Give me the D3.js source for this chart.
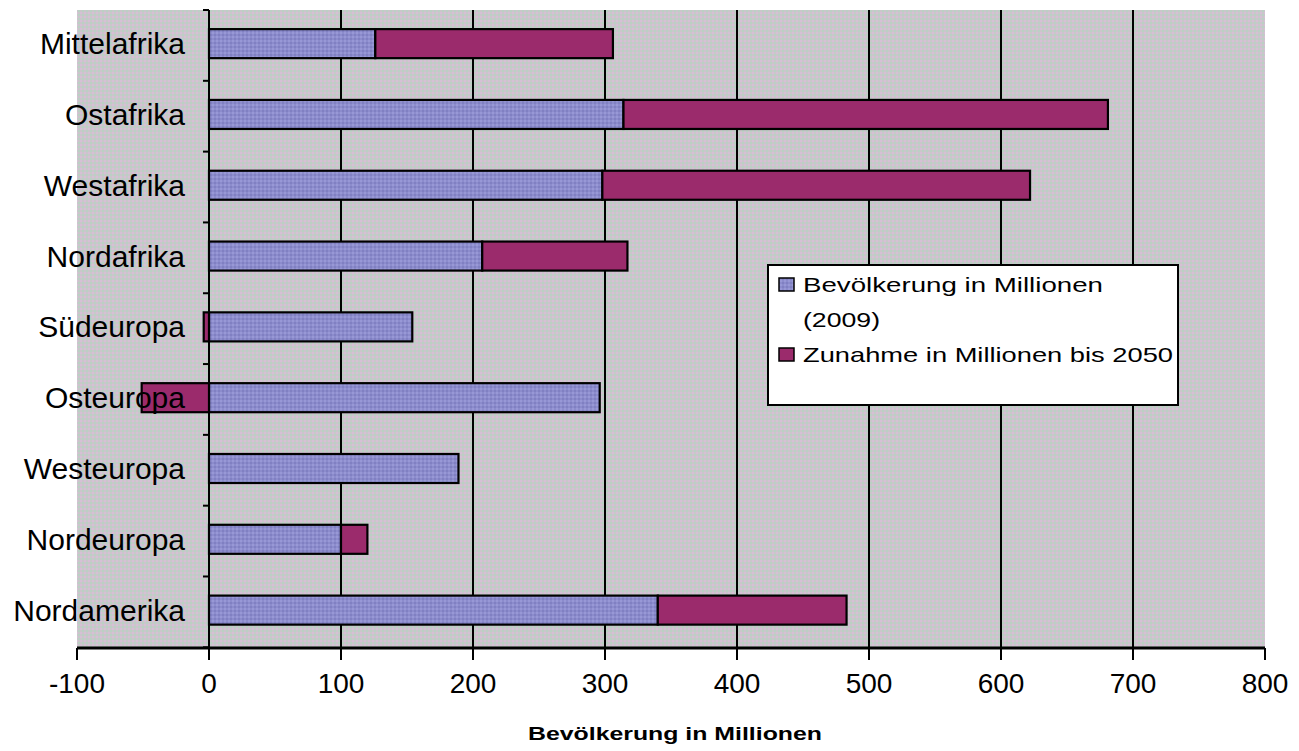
<!DOCTYPE html>
<html>
<head>
<meta charset="utf-8">
<script src="https://cdn.jsdelivr.net/npm/d3@7"></script>
<style>
  html, body { margin: 0; padding: 0; background: #ffffff; }
  svg { display: block; }
  text { font-family: "Liberation Sans", Arial, sans-serif; fill: #000; }
</style>
</head>
<body>
<svg id="chart" width="1299" height="751"></svg>
<script>
// Regions, top to bottom
const categories = ["Mittelafrika", "Ostafrika", "Westafrika", "Nordafrika", "Südeuropa",
                    "Osteuropa", "Westeuropa", "Nordeuropa", "Nordamerika"];
// Population 2009, millions
const population2009 = [126, 314, 298, 207, 154, 296, 189, 100, 340];
// Change in population until 2050, millions
const increase2050 = [180, 367, 324, 110, -4, -51, 0, 20, 143];
const xTicks = [-100, 0, 100, 200, 300, 400, 500, 600, 700, 800];
const seriesNames = ["Bevölkerung in Millionen (2009)", "Zunahme in Millionen bis 2050"];
const seriesColors = ["#8c8ccc", "#9b2b6c"];
const axisTitle = "Bevölkerung in Millionen";

const svg = d3.select("#chart");

const plot = { left: 77, right: 1265, top: 10, bottom: 648 };

const x = d3.scaleLinear().domain([-100, 800]).range([plot.left, plot.right]);
const y = d3.scaleBand().domain(categories).range([plot.top, plot.bottom])
  .paddingInner(0.59).paddingOuter(0.3).align(0.45);

// Dithered plot-area fill
const defs = svg.append("defs");
const pat = defs.append("pattern").attr("id", "dither")
  .attr("width", 4).attr("height", 4).attr("patternUnits", "userSpaceOnUse");
pat.append("rect").attr("width", 4).attr("height", 4).attr("fill", "#cac6ca");
pat.append("rect").attr("x", 0).attr("y", 0).attr("width", 2).attr("height", 2).attr("fill", "#d6c0d6");
pat.append("rect").attr("x", 2).attr("y", 2).attr("width", 2).attr("height", 2).attr("fill", "#bad0c4");

const bluePat = defs.append("pattern").attr("id", "bluetex")
  .attr("width", 4).attr("height", 4).attr("patternUnits", "userSpaceOnUse");
bluePat.append("rect").attr("width", 4).attr("height", 4).attr("fill", seriesColors[0]);
bluePat.append("rect").attr("x", 0).attr("y", 0).attr("width", 2).attr("height", 2).attr("fill", "#9898d6");
bluePat.append("rect").attr("x", 2).attr("y", 2).attr("width", 2).attr("height", 2).attr("fill", "#8080c2");

svg.append("rect")
  .attr("x", plot.left).attr("y", plot.top)
  .attr("width", plot.right - plot.left).attr("height", plot.bottom - plot.top)
  .attr("fill", "url(#dither)");

// Vertical gridlines
svg.append("g").selectAll("line")
  .data(xTicks.filter(v => v > 0 && v < 800))
  .join("line")
  .attr("x1", d => x(d)).attr("x2", d => x(d))
  .attr("y1", plot.top).attr("y2", plot.bottom)
  .attr("stroke", "#000").attr("stroke-width", 2);

// Stacked bars (negative changes extend left of zero)
const rows = categories.map((c, i) => ({ cat: c, pop: population2009[i], inc: increase2050[i] }));
const stack = d3.stack().keys(["pop", "inc"]).offset(d3.stackOffsetDiverging);
const layers = stack(rows);
const fills = ["url(#bluetex)", seriesColors[1]];

svg.append("g").selectAll("g")
  .data(layers)
  .join("g")
  .attr("fill", (d, i) => fills[i])
  .selectAll("rect")
  .data(d => d.filter(s => s[1] !== s[0]))
  .join("rect")
  .attr("x", d => x(Math.min(d[0], d[1])))
  .attr("width", d => Math.abs(x(d[1]) - x(d[0])))
  .attr("y", d => y(d.data.cat))
  .attr("height", y.bandwidth())
  .attr("stroke", "#000").attr("stroke-width", 2.2);

// Y axis line with tick marks at category boundaries
const yAxis = svg.append("g");
yAxis.append("line")
  .attr("x1", x(0)).attr("x2", x(0))
  .attr("y1", plot.top).attr("y2", plot.bottom)
  .attr("stroke", "#000").attr("stroke-width", 2);
const step = y.step();
yAxis.selectAll("line.tick")
  .data(d3.range(categories.length + 1))
  .join("line").attr("class", "tick")
  .attr("x1", x(0) - 6).attr("x2", x(0))
  .attr("y1", k => plot.top + k * step).attr("y2", k => plot.top + k * step)
  .attr("stroke", "#000").attr("stroke-width", 2);
yAxis.selectAll("text")
  .data(categories)
  .join("text")
  .attr("x", 185)
  .attr("y", d => y(d) + y.bandwidth() / 2 + 10.5)
  .attr("text-anchor", "end")
  .style("font-size", "30px")
  .text(d => d);

// X axis
const xAxis = svg.append("g");
xAxis.append("line")
  .attr("x1", plot.left).attr("x2", plot.right)
  .attr("y1", plot.bottom).attr("y2", plot.bottom)
  .attr("stroke", "#000").attr("stroke-width", 3);
xAxis.selectAll("line.tick")
  .data(xTicks)
  .join("line").attr("class", "tick")
  .attr("x1", d => x(d)).attr("x2", d => x(d))
  .attr("y1", plot.bottom).attr("y2", plot.bottom + 12)
  .attr("stroke", "#000").attr("stroke-width", 2);
xAxis.selectAll("text")
  .data(xTicks)
  .join("text")
  .attr("x", d => x(d))
  .attr("y", 693)
  .attr("text-anchor", "middle")
  .style("font-size", "28px")
  .text(d => d);

// Axis title
svg.append("text")
  .attr("x", 528).attr("y", 740)
  .attr("textLength", 294).attr("lengthAdjust", "spacingAndGlyphs")
  .style("font-size", "18px").style("font-weight", "bold")
  .text(axisTitle);

// Legend
const legend = svg.append("g");
legend.append("rect")
  .attr("x", 768).attr("y", 265).attr("width", 410).attr("height", 140)
  .attr("fill", "#fff").attr("stroke", "#000").attr("stroke-width", 2);
const legendRows = [
  { sym: 278, lines: [{ t: "Bevölkerung in Millionen", y: 292, w: 300 }, { t: "(2009)", y: 327, w: 77 }], fill: "url(#bluetex)" },
  { sym: 348, lines: [{ t: "Zunahme in Millionen bis 2050", y: 362, w: 370 }], fill: seriesColors[1] }
];
legendRows.forEach(r => {
  legend.append("rect")
    .attr("x", 779).attr("y", r.sym).attr("width", 15).attr("height", 13)
    .attr("fill", r.fill).attr("stroke", "#000").attr("stroke-width", 1.5);
  r.lines.forEach(l => {
    legend.append("text")
      .attr("x", 803).attr("y", l.y)
      .attr("textLength", l.w).attr("lengthAdjust", "spacingAndGlyphs")
      .style("font-size", "21px")
      .text(l.t);
  });
});
</script>
</body>
</html>
